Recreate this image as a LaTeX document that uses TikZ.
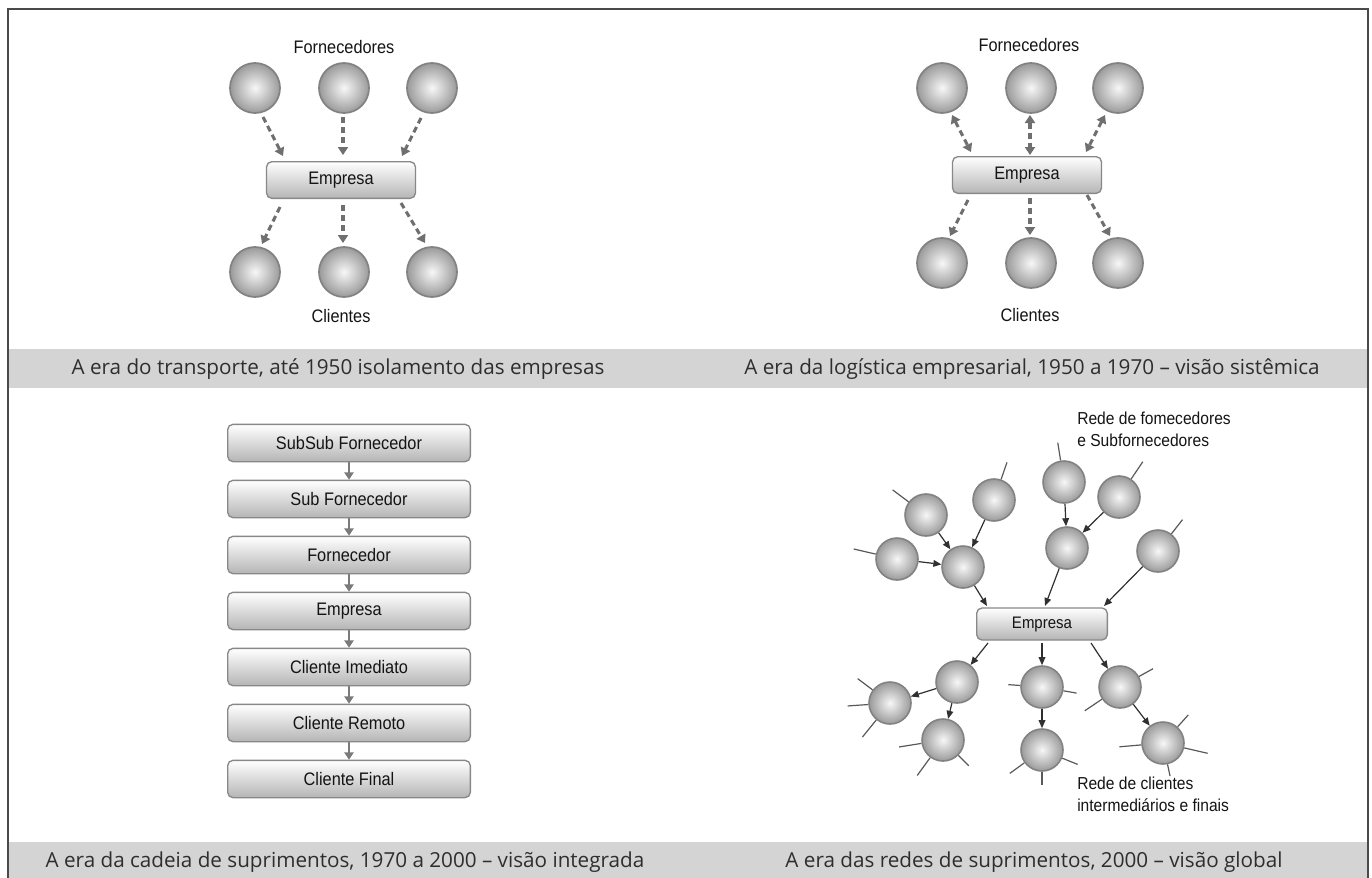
\documentclass[tikz,border=0pt]{standalone}
\usepackage{fontspec}
\setmainfont{Liberation Sans}[FakeStretch=0.9]
\newfontfamily\capfont{Open Sans}
\usetikzlibrary{arrows.meta}
\definecolor{ballin}{HTML}{F7F7F7}
\definecolor{ballout}{HTML}{9A9A9A}
\definecolor{ballrim}{HTML}{828282}
\definecolor{boxrim}{HTML}{888888}
\definecolor{boxbot}{HTML}{B5B5B5}
\definecolor{dasharr}{HTML}{6F6F6F}
\definecolor{chainarr}{HTML}{7A7A7A}
\definecolor{netarr}{HTML}{303030}
\definecolor{band}{HTML}{D4D4D4}
\definecolor{captxt}{HTML}{2E2E2E}
\definecolor{frame}{HTML}{4A4A4A}
\definecolor{txt}{HTML}{141414}
\begin{document}
\begin{tikzpicture}[x=0.75pt,y=-0.75pt,
  ball/.style={circle,inner sep=0pt,minimum size=37.5pt,draw=ballrim,line width=1.3pt,inner color=ballin,outer color=ballout},
  netball/.style={ball,minimum size=31.5pt,line width=1.2pt},
  ebox/.style={rectangle,rounded corners=4pt,draw=boxrim,line width=1pt,top color=white,middle color=white,bottom color=boxbot,inner sep=0pt,text=txt,font=\fontsize{13.6}{15}\selectfont},
  bigbox/.style={ebox,minimum width=111.75pt,minimum height=27.5pt},
  chainbox/.style={ebox,minimum width=182pt,minimum height=28pt},
  netbox/.style={ebox,minimum width=98pt,minimum height=24pt,font=\fontsize{12.5}{14}\selectfont},
  lbl/.style={text=txt,font=\fontsize{13.6}{15}\selectfont,inner sep=0pt},
  netlbl/.style={text=txt,font=\fontsize{13}{16.5}\selectfont,inner sep=0pt,align=left,anchor=north west},
  caption/.style={text=captxt,font=\capfont\fontsize{15.5}{18}\selectfont,inner sep=0pt},
  darrow/.style={draw=dasharr,line width=2.3pt,dash pattern=on 4.5pt off 3pt,-{Triangle[length=6pt,width=7.5pt]}},
  ddarrow/.style={draw=dasharr,line width=2.3pt,dash pattern=on 4.5pt off 3pt,{Triangle[length=6pt,width=7.5pt]}-{Triangle[length=6pt,width=7.5pt]}},
  chainarrow/.style={draw=chainarr,line width=1.1pt,-{Triangle[length=5.5pt,width=7pt]}},
  netarrow/.style={draw=netarr,line width=0.9pt,-{Triangle[length=6pt,width=5pt]}},
  stub/.style={draw=netarr!80,line width=0.9pt}
]
\useasboundingbox (0,0) rectangle (1372,878);
% frame and caption bands
\fill[band] (8,349) rectangle (1368,388);
\fill[band] (8,842) rectangle (1368,878);
\draw[frame,line width=1.6pt] (8,878) -- (8,9) -- (1368,9) -- (1368,878);

% ---------- Panel 1 ----------
\node[lbl] (f1) at (344,47) {Fornecedores};
\node[ball] (p1t1) at (255,88) {};
\node[ball] (p1t2) at (344,88) {};
\node[ball] (p1t3) at (432,88) {};
\node[bigbox] (p1e) at (341,180) {Empresa};
\node[ball] (p1b1) at (255,272) {};
\node[ball] (p1b2) at (344,272) {};
\node[ball] (p1b3) at (432,272) {};
\node[lbl] (c1) at (341,316) {Clientes};
\draw[darrow] ([shift={(8,29)}]p1t1.center) -- ([shift={(-58,-24)}]p1e.center);
\draw[darrow] ([shift={(-1,29)}]p1t2.center) -- ([shift={(2,-25)}]p1e.center);
\draw[darrow] ([shift={(-11,30)}]p1t3.center) -- ([shift={(61,-24)}]p1e.center);
\draw[darrow] ([shift={(-61,27)}]p1e.center) -- ([shift={(7,-28)}]p1b1.center);
\draw[darrow] ([shift={(2,25)}]p1e.center) -- ([shift={(-1,-29)}]p1b2.center);
\draw[darrow] ([shift={(60,23)}]p1e.center) -- ([shift={(-7,-29)}]p1b3.center);

% ---------- Panel 2 ----------
\node[lbl] (f2) at (1029,45) {Fornecedores};
\node[ball] (p2t1) at (942,88) {};
\node[ball] (p2t2) at (1031,88) {};
\node[ball] (p2t3) at (1118,88) {};
\node[bigbox] (p2e) at (1027,175) {Empresa};
\node[ball] (p2b1) at (942,263) {};
\node[ball] (p2b2) at (1031,263) {};
\node[ball] (p2b3) at (1118,263) {};
\node[lbl] (c2) at (1030,315) {Clientes};
\draw[ddarrow] ([shift={(10,27)}]p2t1.center) -- ([shift={(-56,-23)}]p2e.center);
\draw[ddarrow] ([shift={(-1,27)}]p2t2.center) -- ([shift={(3,-20)}]p2e.center);
\draw[ddarrow] ([shift={(-13,27)}]p2t3.center) -- ([shift={(59,-23)}]p2e.center);
\draw[darrow] ([shift={(-59,25)}]p2e.center) -- ([shift={(8,-27)}]p2b1.center);
\draw[darrow] ([shift={(3,23)}]p2e.center) -- ([shift={(-1,-28)}]p2b2.center);
\draw[darrow] ([shift={(60,20)}]p2e.center) -- ([shift={(-8,-27)}]p2b3.center);

\node[caption] (cap1) at (338,369) {A era do transporte, até 1950 isolamento das empresas};
\node[caption] (cap2) at (1032,369) {A era da logística empresarial, 1950 a 1970 – visão sistêmica};

% ---------- Panel 3 ----------
\node[chainbox] (k1) at (349,443) {SubSub Fornecedor};
\node[chainbox] (k2) at (349,499) {Sub Fornecedor};
\node[chainbox] (k3) at (349,555) {Fornecedor};
\node[chainbox] (k4) at (349,611) {Empresa};
\node[chainbox] (k5) at (349,667) {Cliente Imediato};
\node[chainbox] (k6) at (349,723) {Cliente Remoto};
\node[chainbox] (k7) at (349,779) {Cliente Final};
\foreach \a/\b in {k1/k2,k2/k3,k3/k4,k4/k5,k5/k6,k6/k7}
  \draw[chainarrow] (\a.south) -- (\b.north);

% ---------- Panel 4 ----------
\node[netlbl] (r1) at (1077,412) {Rede de fomecedores\\e Subfornecedores};
\node[netball] (nA) at (926,515) {};
\node[netball] (nB) at (994,500) {};
\node[netball] (nC) at (897,559) {};
\node[netball] (nD) at (963,567) {};
\node[netball] (nE) at (1064,482) {};
\node[netball] (nF) at (1119,497) {};
\node[netball] (nG) at (1067,548) {};
\node[netball] (nH) at (1158,551) {};
\node[netbox] (e4) at (1042,624) {Empresa};
\node[netball] (nI) at (957,682) {};
\node[netball] (nJ) at (890,703) {};
\node[netball] (nK) at (943,740) {};
\node[netball] (nL) at (1042,687) {};
\node[netball] (nM) at (1042,750) {};
\node[netball] (nN) at (1120,687) {};
\node[netball] (nO) at (1163,743) {};
\node[netlbl] (r2) at (1077,777) {Rede de clientes\\intermediários e finais};

% stubs
\draw[stub] (nA.143) -- ++(143:15pt);
\draw[stub] (nB.71) -- ++(71:13.5pt);
\draw[stub] (nC.167) -- ++(167:17pt);
\draw[stub] (nE.99) -- ++(99:13.5pt);
\draw[stub] (nF.56) -- ++(56:15.5pt);
\draw[stub] (nH.52) -- ++(52:13.5pt);
\draw[stub] (nJ.143) -- ++(143:14pt);
\draw[stub] (nJ.184) -- ++(184:15.5pt);
\draw[stub] (nJ.231) -- ++(231:16.5pt);
\draw[stub] (nK.189) -- ++(189:17pt);
\draw[stub] (nK.234) -- ++(234:16.5pt);
\draw[stub] (nK.315) -- ++(315:11pt);
\draw[stub] (nL.176) -- ++(176:9pt);
\draw[stub] (nL.-10) -- ++(-10:10pt);
\draw[stub] (nM.216) -- ++(216:13.5pt);
\draw[stub] (nM.270) -- ++(270:10pt);
\draw[stub] (nM.-22) -- ++(-22:12.5pt);
\draw[stub] (nN.29) -- ++(29:12pt);
\draw[stub] (nN.214) -- ++(214:15.5pt);
\draw[stub] (nO.48) -- ++(48:12pt);
\draw[stub] (nO.185) -- ++(185:16.5pt);
\draw[stub] (nO.-13) -- ++(-13:18pt);
\draw[stub] (nO.282) -- ++(282:9pt);

% arrows
\draw[netarrow] (nA) -- (nD);
\draw[netarrow] (nB) -- (nD);
\draw[netarrow] (nC) -- (nD);
\draw[netarrow] (nE) -- (nG);
\draw[netarrow] (nF) -- (nG);
\draw[netarrow] (nD) -- ([shift={(-55,-18)}]e4.center);
\draw[netarrow] (nG) -- ([shift={(3,-18)}]e4.center);
\draw[netarrow] (nH) -- ([shift={(62,-18)}]e4.center);
\draw[netarrow] ([shift={(-54,19)}]e4.center) -- (nI);
\draw[netarrow] ([shift={(0,19)}]e4.center) -- (nL);
\draw[netarrow] ([shift={(49,19)}]e4.center) -- (nN);
\draw[netarrow] (nI) -- (nJ);
\draw[netarrow] (nI) -- (nK);
\draw[netarrow] (nL) -- (nM);
\draw[netarrow] (nN) -- (nO);

\node[caption] (cap3) at (345,862) {A era da cadeia de suprimentos, 1970 a 2000 – visão integrada};
\node[caption] (cap4) at (1034,862) {A era das redes de suprimentos, 2000 – visão global};
\end{tikzpicture}
\end{document}
